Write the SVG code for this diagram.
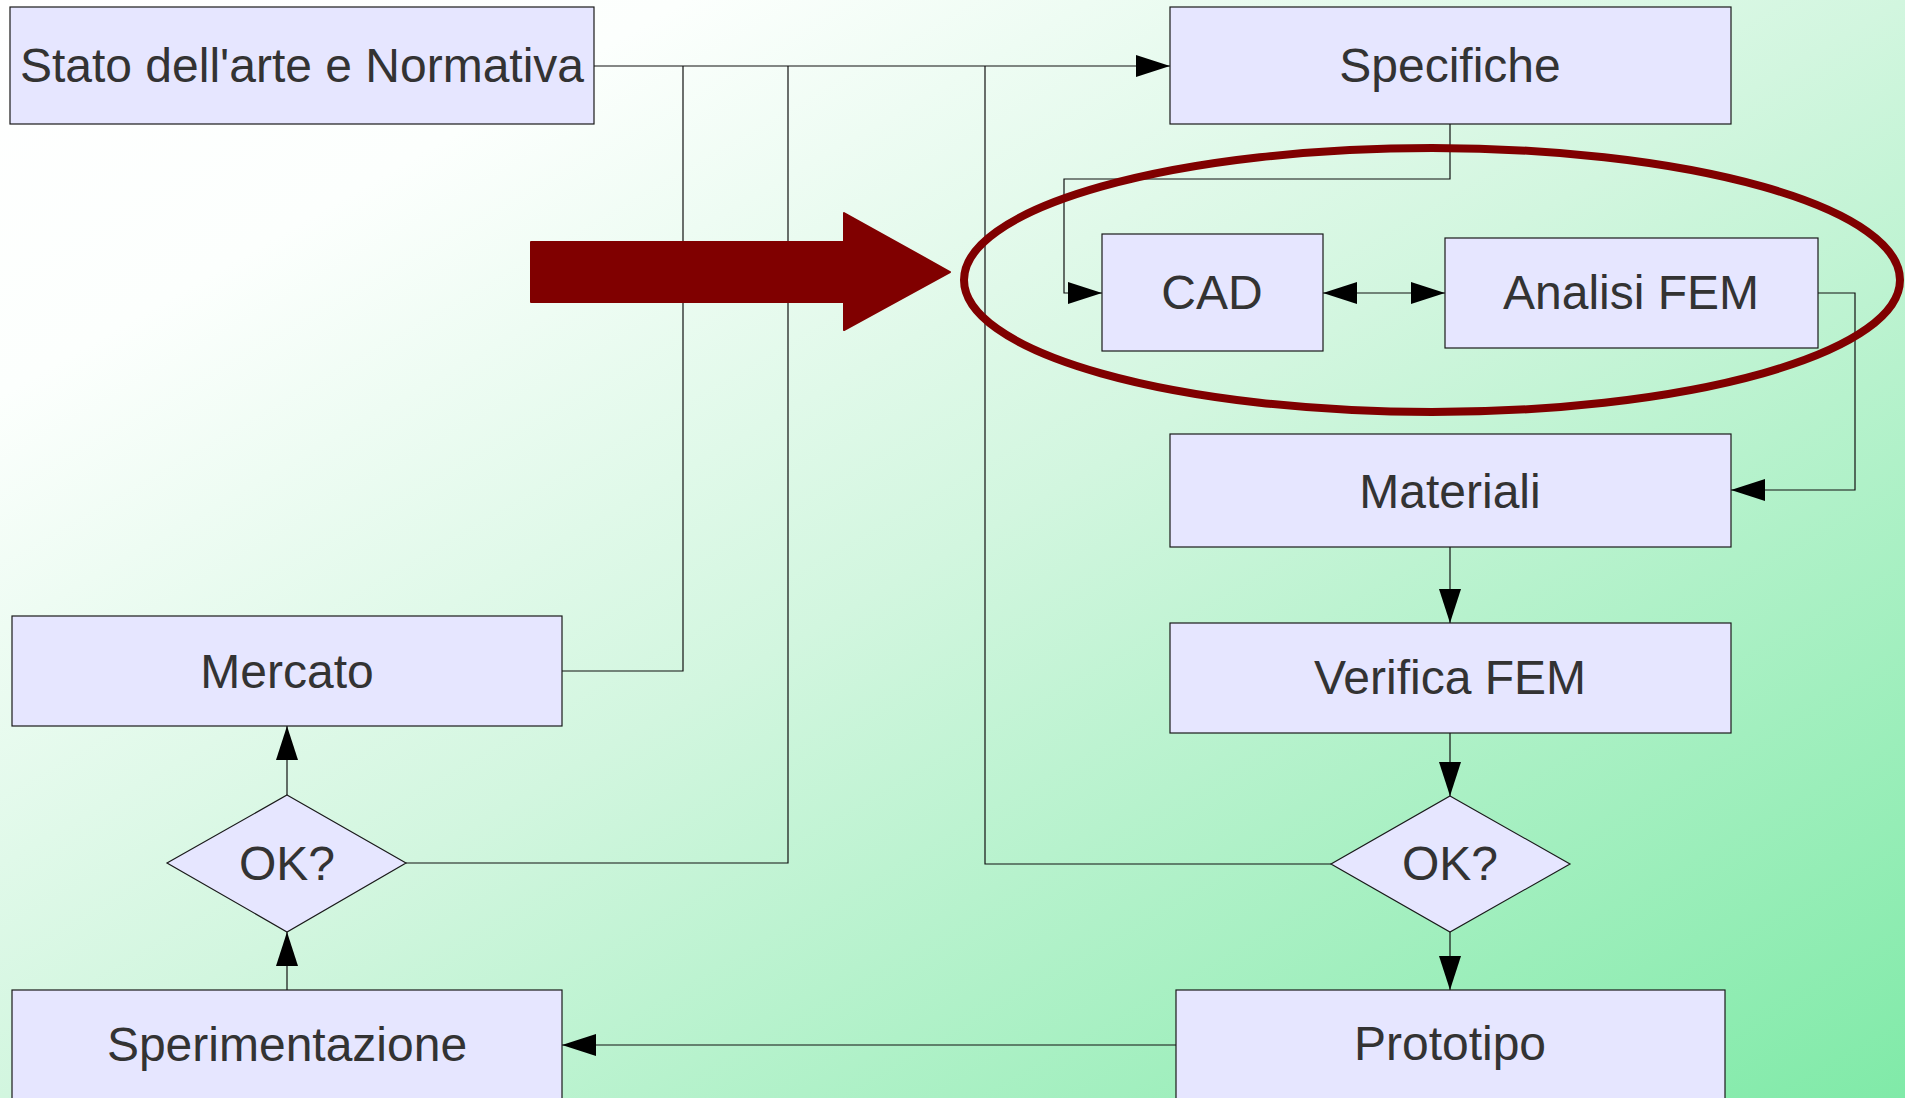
<svg xmlns="http://www.w3.org/2000/svg" width="1905" height="1098" viewBox="0 0 1905 1098">
<defs>
<linearGradient id="bg" x1="0" y1="0" x2="1" y2="1">
<stop offset="0" stop-color="#ffffff"/>
<stop offset="0.18" stop-color="#fcfffd"/>
<stop offset="0.5" stop-color="#d2f6df"/>
<stop offset="1" stop-color="#80eaa8"/>
</linearGradient>
<marker id="ah" markerUnits="userSpaceOnUse" markerWidth="34" markerHeight="22" refX="34" refY="11" orient="auto-start-reverse" viewBox="0 0 34 22">
<path d="M0,0 L34,11 L0,22 z" fill="#000"/>
</marker>
<style>
.box{fill:#e6e6ff;stroke:#1a1a1a;stroke-width:1.2}
.lbl{font-family:"Liberation Sans",Arial,sans-serif;font-size:48px;fill:#333333;text-anchor:middle}
.con{fill:none;stroke:#111;stroke-width:1.2}
.arr{marker-end:url(#ah)}
</style>
</defs>
<rect x="0" y="0" width="1905" height="1098" fill="url(#bg)"/>
<g id="connectors">
<path class="con arr" d="M594,66 H1170"/>
<path class="con" d="M562,671 H683 V66"/>
<path class="con" d="M406,863 H788 V66"/>
<path class="con" d="M1331,864 H985 V66"/>
<path class="con arr" d="M1450,124 V179 H1064 V293 H1102"/>
<path class="con arr" d="M1323,293 H1445" marker-start="url(#ah)"/>
<path class="con arr" d="M1818,293 H1855 V490 H1731"/>
<path class="con arr" d="M1450,547 V623"/>
<path class="con arr" d="M1450,733 V796"/>
<path class="con arr" d="M1450,932 V990"/>
<path class="con arr" d="M1176,1045 H562"/>
<path class="con arr" d="M287,990 V932"/>
<path class="con arr" d="M287,795 V726"/>
</g>
<g id="n-stato"><rect class="box" x="10" y="7" width="584" height="117"/><text class="lbl" x="302" y="82">Stato dell'arte e Normativa</text></g>
<g id="n-specifiche"><rect class="box" x="1170" y="7" width="561" height="117"/><text class="lbl" x="1450" y="82">Specifiche</text></g>
<g id="n-cad"><rect class="box" x="1102" y="234" width="221" height="117"/><text class="lbl" x="1212" y="309">CAD</text></g>
<g id="n-analisi"><rect class="box" x="1445" y="238" width="373" height="110"/><text class="lbl" x="1631" y="309">Analisi FEM</text></g>
<g id="n-materiali"><rect class="box" x="1170" y="434" width="561" height="113"/><text class="lbl" x="1450" y="508">Materiali</text></g>
<g id="n-verifica"><rect class="box" x="1170" y="623" width="561" height="110"/><text class="lbl" x="1450" y="694">Verifica FEM</text></g>
<g id="n-ok2"><polygon class="box" points="1450,796 1570,864 1450,932 1331,864"/><text class="lbl" x="1450" y="880">OK?</text></g>
<g id="n-prototipo"><rect class="box" x="1176" y="990" width="549" height="130"/><text class="lbl" x="1450" y="1060">Prototipo</text></g>
<g id="n-mercato"><rect class="box" x="12" y="616" width="550" height="110"/><text class="lbl" x="287" y="688">Mercato</text></g>
<g id="n-ok1"><polygon class="box" points="287,795 406,863 287,932 167,863"/><text class="lbl" x="287" y="880">OK?</text></g>
<g id="n-sperimentazione"><rect class="box" x="12" y="990" width="550" height="130"/><text class="lbl" x="287" y="1061">Sperimentazione</text></g>
<g id="highlight">
<ellipse cx="1432" cy="280" rx="468" ry="132" fill="none" stroke="#800000" stroke-width="8"/>
<polygon points="531,242 844,242 844,213 950,272 844,330 844,302 531,302" fill="#800000" stroke="#800000" stroke-width="2" stroke-linejoin="round"/>
</g>
</svg>
